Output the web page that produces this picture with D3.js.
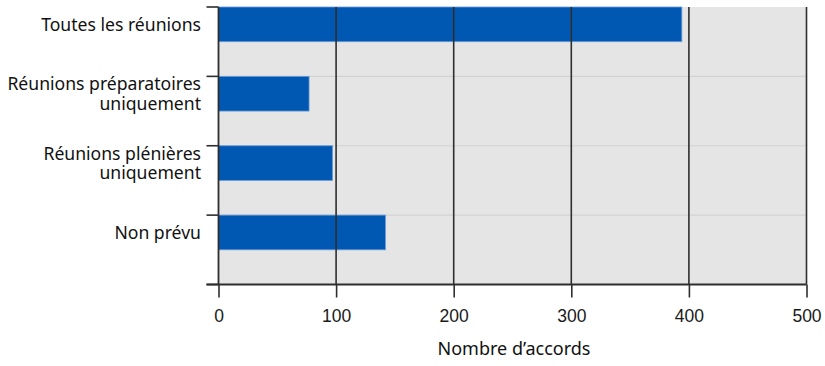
<!DOCTYPE html>
<html>
<head>
<meta charset="utf-8">
<script src="https://cdn.jsdelivr.net/npm/d3@7"></script>
<style>
  html, body { margin: 0; padding: 0; background: #fff; }
  svg { display: block; }
</style>
</head>
<body>
<svg id="chart" width="825" height="366"></svg>
<script>
// Nombre d'accords par type de réunion
const categories = [
  ["Toutes les réunions"],
  ["Réunions préparatoires", "uniquement"],
  ["Réunions plénières", "uniquement"],
  ["Non prévu"]
];
const values = [394, 77, 97, 142];
const xTicks = [0, 100, 200, 300, 400, 500];
const xTitle = "Nombre d’accords";

const svg = d3.select("#chart");
const plotLeft = 218.5, plotRight = 806.5, plotTop = 7, plotBottom = 284.5;

const keys = categories.map(c => c.join(" "));
const x = d3.scaleLinear().domain([0, 500]).range([plotLeft, plotRight]);
const y = d3.scaleBand().domain(keys).range([plotTop, plotBottom]).paddingInner(0).paddingOuter(0);
const barH = y.bandwidth() * 0.5;

// plot background
svg.append("rect")
  .attr("x", plotLeft).attr("y", plotTop)
  .attr("width", plotRight - plotLeft).attr("height", plotBottom - plotTop)
  .attr("fill", "#e5e5e5");

// light separators between categories
svg.append("g").selectAll("line")
  .data(keys.slice(1))
  .join("line")
  .attr("x1", plotLeft).attr("x2", plotRight)
  .attr("y1", d => y(d)).attr("y2", d => y(d))
  .attr("stroke", "#d2d2d2").attr("stroke-width", 1.2);

// bars
svg.append("g").selectAll("rect")
  .data(values)
  .join("rect")
  .attr("x", x(0))
  .attr("y", (d, i) => y(keys[i]))
  .attr("width", d => x(d) - x(0))
  .attr("height", barH)
  .attr("fill", "#0058b2")
  .attr("stroke", "#6b9ad6")
  .attr("stroke-width", 0.8);

// vertical gridlines (drawn over the bars)
svg.append("g").selectAll("line")
  .data(xTicks.slice(1))
  .join("line")
  .attr("x1", d => x(d)).attr("x2", d => x(d))
  .attr("y1", plotTop).attr("y2", plotBottom)
  .attr("stroke", "#2e2e2e").attr("stroke-width", 1.6);

// bottom axis
const xAxis = d3.axisBottom(x).tickValues(xTicks).tickSize(13).tickPadding(12).tickSizeOuter(0);
const gx = svg.append("g").attr("transform", `translate(0,${plotBottom})`).call(xAxis);
gx.select(".domain").remove();
gx.selectAll(".tick line").attr("stroke", "#2e2e2e").attr("stroke-width", 1.6);
gx.selectAll(".tick text")
  .attr("font-family", "'Liberation Sans', Arial, sans-serif")
  .attr("font-size", 17.5)
  .attr("fill", "#1a1a1a");
svg.append("line")
  .attr("x1", plotLeft - 12).attr("x2", plotRight)
  .attr("y1", plotBottom).attr("y2", plotBottom)
  .attr("stroke", "#2e2e2e").attr("stroke-width", 1.8);

// left axis with ticks at band boundaries
const bounds = keys.map(k => y(k)).concat([plotBottom]);
svg.append("line")
  .attr("x1", plotLeft).attr("x2", plotLeft)
  .attr("y1", plotTop).attr("y2", plotBottom)
  .attr("stroke", "#2e2e2e").attr("stroke-width", 1.8);
svg.append("g").selectAll("line")
  .data(bounds)
  .join("line")
  .attr("x1", plotLeft - 12).attr("x2", plotLeft)
  .attr("y1", d => d).attr("y2", d => d)
  .attr("stroke", "#2e2e2e").attr("stroke-width", 1.6);

// category labels, centred on each bar
const lineH = 19.5;
const labels = svg.append("g")
  .attr("font-family", "'Noto Sans', 'Open Sans', sans-serif")
  .attr("font-size", 17.6)
  .attr("fill", "#111")
  .attr("text-anchor", "end");
categories.forEach((lines, i) => {
  const cy = y(keys[i]) + barH / 2;
  const t = labels.append("text").attr("x", 201);
  lines.forEach((ln, j) => {
    t.append("tspan")
      .attr("x", 201)
      .attr("y", cy + (j - (lines.length - 1) / 2) * lineH)
      .attr("dy", "0.35em")
      .text(ln);
  });
});

// axis title
svg.append("text")
  .attr("x", 514)
  .attr("y", 355)
  .attr("text-anchor", "middle")
  .attr("font-family", "'Noto Sans', 'Open Sans', sans-serif")
  .attr("font-size", 18)
  .attr("fill", "#111")
  .text(xTitle);
</script>
</body>
</html>
